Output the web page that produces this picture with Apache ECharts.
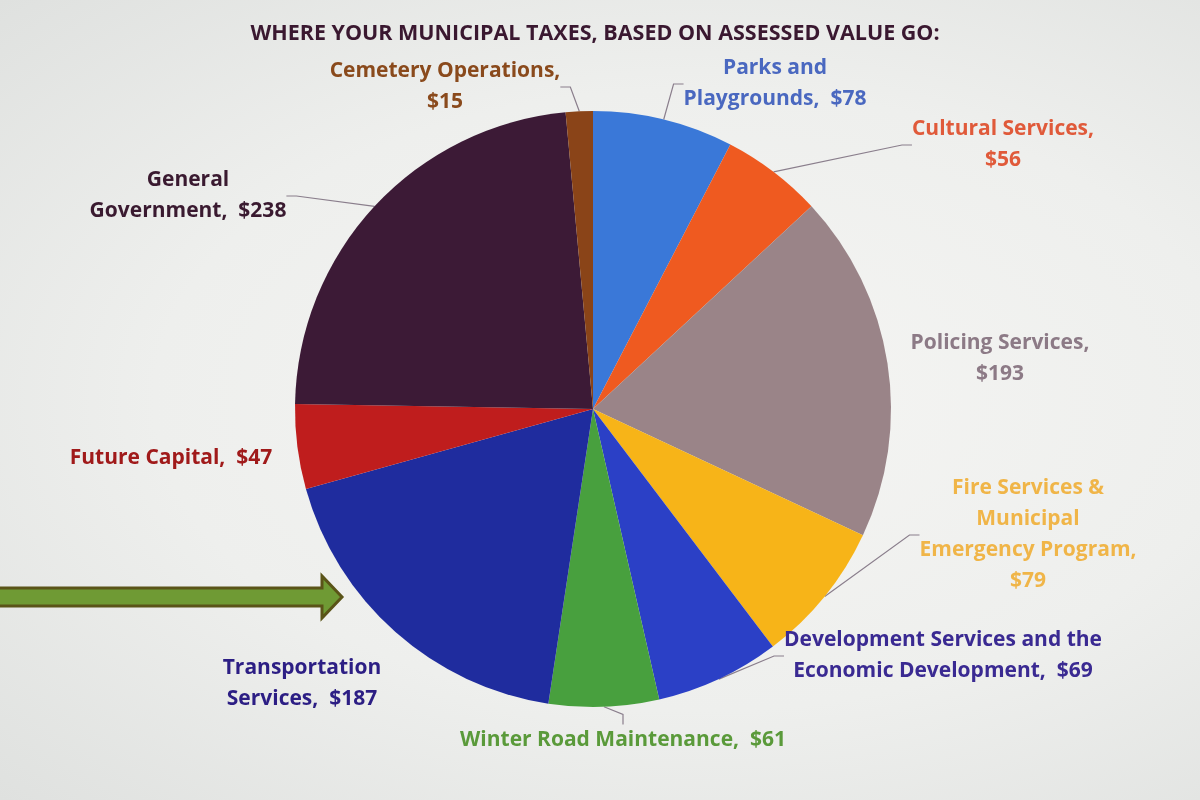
<!DOCTYPE html>
<html>
<head>
<meta charset="utf-8">
<script src="https://cdn.jsdelivr.net/npm/echarts@6/dist/echarts.min.js"></script>
<style>
  html, body { margin: 0; padding: 0; }
  body {
    background: radial-gradient(ellipse at 58% 50%, #f5f5f3 0%, #eeefed 55%, #dfe1df 100%);
  }
  #chart { width: 1200px; height: 800px; }
</style>
</head>
<body>
<div id="chart"></div>
<script>
// slices, clockwise from 12 o'clock
const categories = [
  'Parks and\nPlaygrounds,',
  'Cultural Services,\n',
  'Policing Services,\n',
  'Fire Services &\nMunicipal\nEmergency Program,\n',
  'Development Services and the\nEconomic Development,',
  'Winter Road Maintenance,',
  'Transportation\nServices,',
  'Future Capital,',
  'General\nGovernment,',
  'Cemetery Operations,\n'
]
const amounts = [78, 56, 193, 79, 69, 61, 187, 47, 238, 15]

const colors = ['#3a78d8', '#ef5a20', '#9a8488', '#f7b418', '#2b40c6',
                '#48a03e', '#1f2c9e', '#bf1d1d', '#3c1a36', '#8a4418']
const labelColors = ['#4a68c0', '#e05a3a', '#8c7a86', '#f0b548', '#3a2a92',
                     '#5a9a3a', '#2c1e84', '#a01a1a', '#3a1a30', '#8a4a1c']
// where each label sits (text block centre) and whether it has a leader line
const labelPos = [
  [775, 84], [1003, 145], [1000, 359], [1028, 535], [943, 656],
  [623, 740], [302, 684], [171, 458], [188, 196], [445, 87]
]
const hasLine = [true, true, false, true, true, true, false, false, true, true]

const chart = echarts.init(document.getElementById('chart'))

chart.setOption({
  backgroundColor: 'transparent',
  animation: false,
  title: {
    text: 'WHERE YOUR MUNICIPAL TAXES, BASED ON ASSESSED VALUE GO:',
    left: 590,
    textAlign: 'center',
    top: 18,
    textStyle: {
      fontFamily: 'Open Sans',
      fontWeight: 'bold',
      fontSize: 21.5,
      color: '#3a1830'
    }
  },
  graphic: [
    { // green arrow pointing at Transportation
      type: 'polygon',
      shape: {
        points: [[-5, 588], [322, 588], [322, 576], [342, 597], [322, 618], [322, 606], [-5, 606]]
      },
      style: { fill: '#6f9a34', stroke: '#5a5418', lineWidth: 3 }
    }
  ],
  series: [{
    type: 'pie',
    center: [593, 409],
    radius: 298,
    startAngle: 90,
    clockwise: true,
    avoidLabelOverlap: false,
    data: amounts.map((v, i) => ({
      name: categories[i],
      value: v,
      itemStyle: { color: colors[i] },
      label: { color: labelColors[i] },
      labelLine: { show: hasLine[i] }
    })),
    label: {
      show: true,
      position: 'outside',
      fontFamily: 'Open Sans',
      fontWeight: 'bold',
      fontSize: 21,
      lineHeight: 31,
      align: 'center',
      formatter: p => p.name + (p.name.endsWith('\n') ? '' : '  ') + '$' + p.value
    },
    labelLine: {
      show: true,
      length: 10,
      length2: 10,
      lineStyle: { color: '#8a7e8c', width: 1.2 }
    },
    labelLayout: p => ({
      x: labelPos[p.dataIndex][0],
      y: labelPos[p.dataIndex][1],
      align: 'center',
      verticalAlign: 'middle'
    })
  }]
})
</script>
</body>
</html>
